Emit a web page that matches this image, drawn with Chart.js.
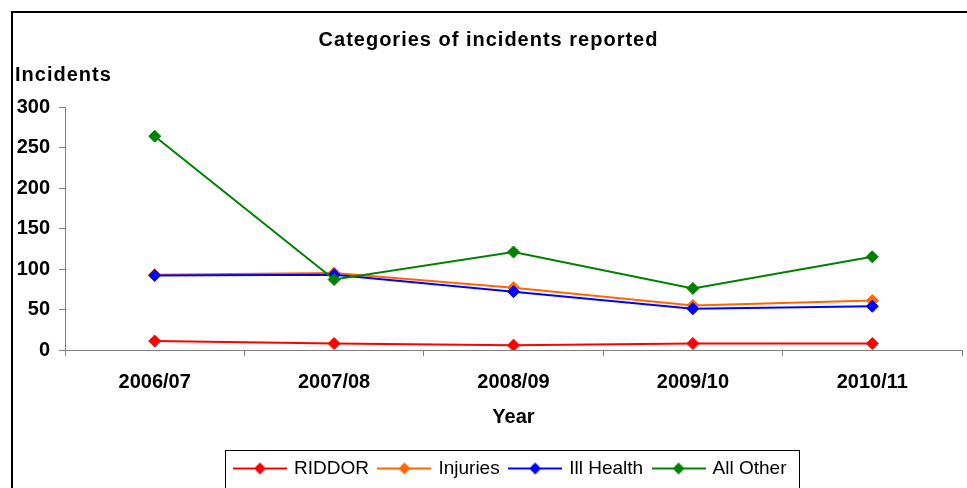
<!DOCTYPE html>
<html>
<head>
<meta charset="utf-8">
<script src="https://cdn.jsdelivr.net/npm/chart.js@4.4.1/dist/chart.umd.min.js"></script>
<style>
  html, body { margin: 0; padding: 0; background: #fff; overflow: hidden; }
  #frame { position: absolute; left: 11px; top: 11px; border: 2px solid #000; width: 980px; height: 475px; }
  canvas { display: block; }
</style>
</head>
<body>
<div id="frame"><canvas id="lineChart" width="980" height="475"></canvas></div>
<script>
const years = ['2006/07', '2007/08', '2008/09', '2009/10', '2010/11'];
const riddor = [11, 8, 6, 8, 8];
const injuries = [93, 95, 77, 55, 61];
const illHealth = [92, 93, 72, 51, 54];
const allOther = [264, 87, 121, 76, 115];
const yTicks = [0, 50, 100, 150, 200, 250, 300];
const seriesNames = ['RIDDOR', 'Injuries', 'Ill Health', 'All Other'];
const seriesColors = ['#FF0000', '#FF6600', '#0000FF', '#008000'];

const FONT = '"Liberation Sans", Arial, sans-serif';
const boldFont = { family: FONT, size: 20, weight: 'bold' };

// little line + diamond used as legend symbol
function legendMarker(color) {
  const c = document.createElement('canvas');
  c.width = 54; c.height = 14;
  const g = c.getContext('2d');
  g.strokeStyle = color; g.lineWidth = 2;
  g.beginPath(); g.moveTo(0, 7); g.lineTo(54, 7); g.stroke();
  g.fillStyle = color;
  g.beginPath(); g.moveTo(27, 1); g.lineTo(33, 7); g.lineTo(27, 13); g.lineTo(21, 7); g.closePath(); g.fill();
  return c;
}

const framePlugin = {
  id: 'frame',
  afterLayout(chart) {
    // legend sits centred under the plot area, not the canvas
    chart.legend.left += 22.5;
    chart.legend.right += 22.5;
    chart.boxes.forEach(b => {
      const t = b.options && b.options.text;
      if ((t === 'Categories of incidents reported' || t === 'Incidents') && !b._spaced) {
        const d = b.draw;
        b.draw = function () {
          this.ctx.save();
          this.ctx.letterSpacing = '1px';
          d.apply(this, arguments);
          this.ctx.restore();
        };
        b._spaced = true;
      }
    });
  },
  afterDraw(chart) {
    const hb = chart.legend.legendHitBoxes;
    if (!hb || !hb.length) return;
    const last = hb[hb.length - 1];
    const left = Math.round(hb[0].left - 10) + 0.5;
    const right = Math.round(last.left + last.width + 12) + 0.5;
    const top = Math.round(chart.legend.top + 2) + 0.5;
    const ctx = chart.ctx;
    ctx.save();
    ctx.strokeStyle = '#000';
    ctx.lineWidth = 1;
    ctx.strokeRect(left, top, right - left, 100);
    ctx.restore();
  }
};

new Chart(document.getElementById('lineChart'), {
  type: 'line',
  data: {
    labels: years,
    datasets: [riddor, injuries, illHealth, allOther].map((data, i) => ({
      label: seriesNames[i],
      data: data,
      borderColor: seriesColors[i],
      backgroundColor: seriesColors[i],
      borderWidth: 2,
      pointStyle: 'rectRot',
      pointRadius: 6,
      pointBorderWidth: 1,
      tension: 0,
      order: 3 - i
    }))
  },
  options: {
    responsive: false,
    animation: false,
    layout: { padding: { left: 2, right: 31, top: 0, bottom: 0 } },
    plugins: {
      title: {
        display: true,
        text: 'Categories of incidents reported',
        color: '#000',
        font: boldFont,
        padding: { top: 15, bottom: 0 }
      },
      subtitle: {
        display: true,
        text: 'Incidents',
        align: 'start',
        color: '#000',
        font: boldFont,
        padding: { top: 11, bottom: 20 }
      },
      legend: {
        position: 'bottom',
        labels: {
          color: '#000',
          font: { family: FONT, size: 19 },
          usePointStyle: true,
          pointStyleWidth: 49,
          padding: 11,
          generateLabels: chart => chart.data.datasets.map((ds, i) => ({
            text: ds.label,
            pointStyle: legendMarker(ds.borderColor),
            fillStyle: ds.borderColor,
            strokeStyle: ds.borderColor,
            lineWidth: 0,
            fontColor: '#000',
            datasetIndex: i,
            hidden: false
          }))
        }
      },
      tooltip: { enabled: false }
    },
    scales: {
      x: {
        offset: true,
        grid: { offset: true, drawOnChartArea: false, color: '#808080', tickLength: 6 },
        border: { color: '#808080' },
        ticks: { color: '#000', font: boldFont, padding: 14, maxRotation: 0 },
        title: { display: true, text: 'Year', color: '#000', font: boldFont, padding: { top: 0, bottom: 19 } },
        afterFit: s => { s.height = 98; }
      },
      y: {
        min: 0,
        max: 300,
        afterBuildTicks: s => { s.ticks = yTicks.map(v => ({ value: v })); },
        grid: { drawOnChartArea: false, color: '#808080', tickLength: 6 },
        border: { color: '#808080' },
        ticks: { color: '#000', font: boldFont, padding: 9 },
        afterFit: s => { s.width = 50; }
      }
    }
  },
  plugins: [framePlugin]
});
</script>
</body>
</html>
